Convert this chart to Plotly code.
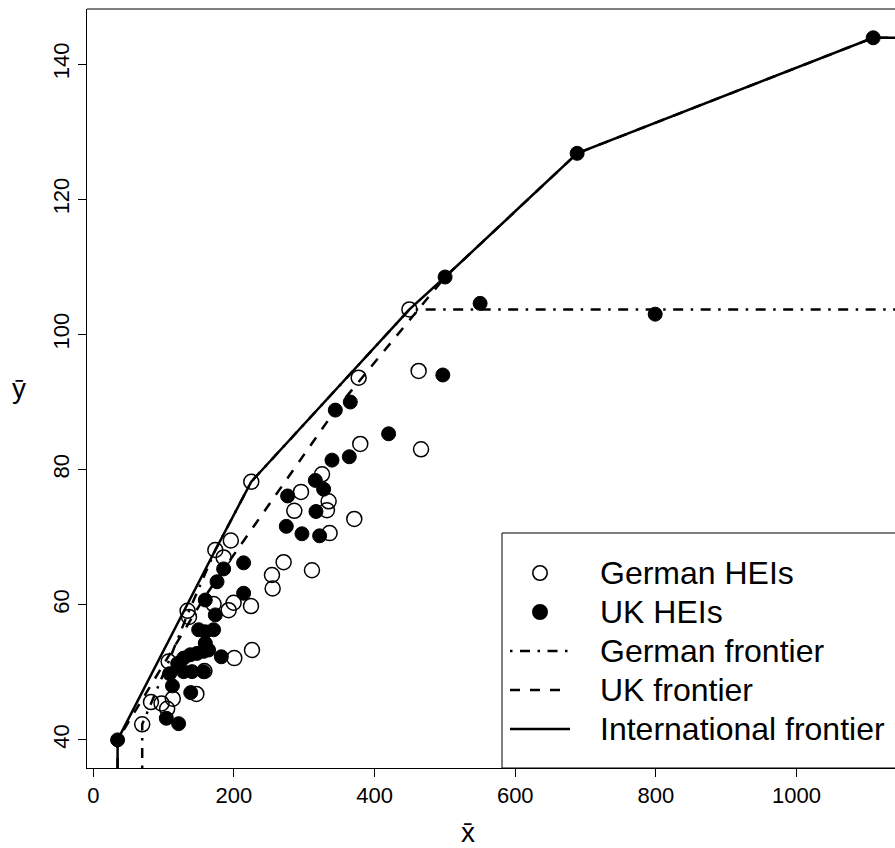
import plotly.graph_objects as go

# ---------------- data ----------------
german_x = [69.5, 82, 97, 105, 113, 146.5, 107.1, 134, 136, 158, 171, 173.5, 185.3, 195.5,
            192.4, 199.5, 224.2, 200.5, 225.6, 224.6, 254, 255, 270.6, 310.9, 285.8, 295.3,
            325.2, 334.6, 332.2, 336, 371.1, 377.3, 379.6, 449.5, 462.6, 466]
german_y = [42.3, 45.6, 45.4, 44.6, 46.1, 46.8, 51.6, 59.1, 58.2, 50.2, 60.1, 68.1, 67.0, 69.5,
            59.2, 60.3, 59.8, 52.1, 53.3, 78.2, 64.4, 62.4, 66.3, 65.1, 73.9, 76.7,
            79.3, 75.3, 74.0, 70.6, 72.7, 93.6, 83.8, 103.7, 94.6, 83.0]

uk_x = [34.5, 103.8, 121.3, 112.5, 108.5, 138.5, 119.9, 128.4, 137.9, 147.4, 156.8, 163.9,
        128.4, 140.3, 156.8, 182, 159.2, 159.2, 149.8, 171, 173.4, 159.2, 213.7, 175.9,
        185.3, 213.7, 274.4, 296.7, 321.8, 316.6, 276.3, 315.7, 327.5, 339.4, 364, 344.1,
        365.4, 419.9, 497, 500.2, 550, 799, 688, 1109]
uk_y = [40.0, 43.2, 42.4, 48.0, 49.8, 47.0, 51.3, 52.1, 52.6, 52.8, 53.1, 53.3,
        50.1, 50.1, 50.1, 52.3, 54.3, 56.0, 56.3, 56.3, 58.5, 60.7, 61.7, 63.4,
        65.3, 66.2, 71.6, 70.5, 70.2, 73.8, 76.1, 78.4, 77.1, 81.4, 81.9, 88.8,
        90.0, 85.3, 94.0, 108.5, 104.6, 103.0, 126.8, 143.9]

# frontier vertices (None = runs down to the bottom of the axis)
german_front_x = [69.5, 69.5, 82.5, 107.1, 134.5, 173.5, 224.6, 449.5]
german_front_y = [None, 42.3, 45.5, 51.6, 58.7, 68.1, 78.2, 103.7]
uk_front_x = [34.5, 34.5, 156.8, 186.3, 344.1, 500.2, 688, 1109]
uk_front_y = [None, 40.0, 60.9, 65.4, 88.8, 108.5, 126.8, 143.9]
intl_front_x = [34.5, 34.5, 173.5, 224.6, 449.5, 500.2, 688, 1109]
intl_front_y = [None, 40.0, 68.1, 78.2, 103.7, 108.5, 126.8, 143.9]

x_ticks = [0, 200, 400, 600, 800, 1000]
y_ticks = [40, 60, 80, 100, 120, 140]
X_RANGE = [-9, 1140]
Y_RANGE = [35.84, 148.16]

legend_labels = ["German HEIs", "UK HEIs", "German frontier", "UK frontier", "International frontier"]

# ---------------- figure ----------------
W, H = 895, 848
ML, MR, MT, MB = 87, 0, 9, 80
PW, PH = W - ML - MR, H - MT - MB
FONT = "Liberation Sans, Arial, Helvetica, sans-serif"
DASHDOT = "2.5px,7.5px,10px,7.5px"
DASHED = "10px,10px"


def fill_front(xs, ys):
    # vertical drop to the bottom of the axis and horizontal run to the right edge
    ys = [Y_RANGE[0] if v is None else v for v in ys]
    return xs + [X_RANGE[1]], ys + [ys[-1]]


fig = go.Figure()

gx, gy = fill_front(german_front_x, german_front_y)
ux, uy = fill_front(uk_front_x, uk_front_y)
ix, iy = fill_front(intl_front_x, intl_front_y)

fig.add_trace(go.Scatter(x=gx, y=gy, mode="lines",
                         line=dict(color="black", width=2.5, dash=DASHDOT)))
fig.add_trace(go.Scatter(x=ux, y=uy, mode="lines",
                         line=dict(color="black", width=2.5, dash=DASHED)))
fig.add_trace(go.Scatter(x=ix, y=iy, mode="lines",
                         line=dict(color="black", width=2.5)))

fig.add_trace(go.Scatter(x=german_x, y=german_y, mode="markers",
                         marker=dict(symbol="circle-open", size=15, color="black",
                                     line=dict(width=1.5, color="black"))))
fig.add_trace(go.Scatter(x=uk_x, y=uk_y, mode="markers",
                         marker=dict(symbol="circle", size=14, color="black",
                                     line=dict(width=1, color="black"))))


def px2paper(px, py):
    return (px - ML) / PW, (H - MB - py) / PH


shapes = []
# top border (box continues beyond the right edge)
shapes.append(dict(type="line", xref="paper", yref="paper", x0=0, x1=1.02, y0=1, y1=1,
                   line=dict(color="black", width=1)))

# legend box
lx0, ly0 = px2paper(502, 533)
shapes.append(dict(type="rect", xref="paper", yref="paper", x0=lx0, x1=1.05, y0=0, y1=ly0,
                   line=dict(color="black", width=1), fillcolor="white", layer="above"))

row_y = [573, 612, 651, 690, 729]
annotations = []
for i, lab in enumerate(legend_labels):
    _, yp = px2paper(0, row_y[i])
    tx, _ = px2paper(598, 0)
    annotations.append(dict(text=lab, xref="paper", yref="paper", x=tx, y=yp,
                            xanchor="left", yanchor="middle", showarrow=False,
                            font=dict(family=FONT, size=32, color="black")))

r = 7.2
for i, filled in enumerate([False, True]):
    cx, cy = 540, row_y[i]
    a0, b0 = px2paper(cx - r, cy + r)
    a1, b1 = px2paper(cx + r, cy - r)
    shapes.append(dict(type="circle", xref="paper", yref="paper", x0=a0, x1=a1, y0=b0, y1=b1,
                       line=dict(color="black", width=1.6),
                       fillcolor="black" if filled else "white", layer="above"))

for k, d in enumerate([DASHDOT, DASHED, "solid"]):
    cy = row_y[2 + k]
    a0, b0 = px2paper(510, cy)
    a1, _ = px2paper(570, cy)
    shapes.append(dict(type="line", xref="paper", yref="paper", x0=a0, x1=a1, y0=b0, y1=b0,
                       line=dict(color="black", width=2.5, dash=d), layer="above"))

# axis titles
xt, yt = px2paper(468, 832)
annotations.append(dict(text="x\u0304", xref="paper", yref="paper", x=xt, y=yt,
                        xanchor="center", yanchor="middle", showarrow=False,
                        font=dict(family=FONT, size=28, color="black")))
xt, yt = px2paper(19, 388)
annotations.append(dict(text="y\u0304", xref="paper", yref="paper", x=xt, y=yt,
                        xanchor="center", yanchor="middle", showarrow=False,
                        font=dict(family=FONT, size=28, color="black")))

fig.update_layout(
    width=W, height=H,
    margin=dict(l=ML, r=MR, t=MT, b=MB, pad=0),
    paper_bgcolor="white", plot_bgcolor="white",
    showlegend=False,
    shapes=shapes, annotations=annotations,
    font=dict(family=FONT, color="black"),
    xaxis=dict(range=X_RANGE, tickvals=x_ticks, ticktext=[str(v) for v in x_ticks],
               showgrid=False, zeroline=False, showline=True, linecolor="black", linewidth=1,
               ticks="outside", ticklen=8, tickwidth=1, tickcolor="black",
               tickfont=dict(family=FONT, size=22, color="black")),
    yaxis=dict(range=Y_RANGE, tickvals=y_ticks, ticktext=[str(v) for v in y_ticks],
               showgrid=False, zeroline=False, showline=True, linecolor="black", linewidth=1,
               ticks="outside", ticklen=8, tickwidth=1, tickcolor="black", tickangle=-90,
               tickfont=dict(family=FONT, size=22, color="black")),
)

fig.write_html("out.html")
